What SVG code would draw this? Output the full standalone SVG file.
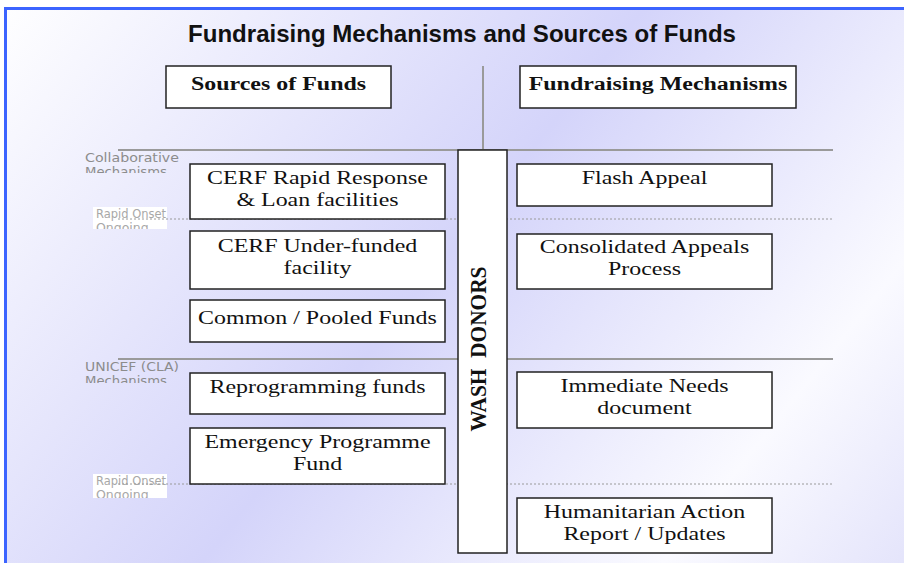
<svg xmlns="http://www.w3.org/2000/svg" width="904" height="563" viewBox="0 0 904 563">
<defs>
<linearGradient id="bg" gradientUnits="userSpaceOnUse" x1="0" y1="0" x2="828" y2="662">
<stop offset="0" stop-color="#ffffff"/>
<stop offset="0.48" stop-color="#d4d4fa"/>
<stop offset="0.82" stop-color="#fafaff"/>
<stop offset="1" stop-color="#e4e4fb"/>
</linearGradient>
<clipPath id="c1"><rect x="80" y="150" width="110" height="23"/></clipPath>
<clipPath id="c2"><rect x="80" y="359" width="110" height="24"/></clipPath>
<clipPath id="c3"><rect x="93" y="207" width="75" height="22"/></clipPath>
<clipPath id="c4"><rect x="93" y="474" width="75" height="24"/></clipPath>
<style>
.box{fill:#ffffff;stroke:#222222;stroke-width:1.5}
.t{font-family:"Liberation Serif","Times New Roman",serif;font-size:19px;fill:#111111;text-anchor:middle}
.h{font-family:"Liberation Serif","Times New Roman",serif;font-size:19px;font-weight:bold;fill:#111111;text-anchor:middle}
.lbl{font-family:"DejaVu Sans",Verdana,sans-serif;font-size:13px;fill:#8c8c8c}
.lbl2{font-family:"DejaVu Sans",Verdana,sans-serif;font-size:12.5px;fill:#a8a8a8}
.solid{stroke:#9a9a9a;stroke-width:2;fill:none}
.dot{stroke:#9a9a9a;stroke-width:1;stroke-dasharray:2,2;fill:none}
</style>
</defs>
<rect x="0" y="0" width="904" height="563" fill="#ffffff"/>
<rect x="5" y="8" width="899" height="555" fill="url(#bg)"/>
<line x1="4" y1="8.5" x2="904" y2="8.5" stroke="#3c64ff" stroke-width="3"/>
<line x1="5.5" y1="7" x2="5.5" y2="563" stroke="#3c64ff" stroke-width="3"/>

<text x="188" y="42" font-family="Liberation Sans, Arial, sans-serif" font-size="24" font-weight="bold" fill="#111111" textLength="548" lengthAdjust="spacingAndGlyphs">Fundraising Mechanisms and Sources of Funds</text>

<g id="connectors">
<line class="solid" x1="483" y1="66" x2="483" y2="150"/>
<line class="solid" x1="118" y1="150" x2="833" y2="150"/>
<line class="solid" x1="118" y1="359" x2="833" y2="359"/>
</g>

<g id="labels">
<text class="lbl" x="85" y="162" textLength="94" lengthAdjust="spacingAndGlyphs">Collaborative</text>
<text class="lbl" x="85" y="176" clip-path="url(#c1)" textLength="82" lengthAdjust="spacingAndGlyphs">Mechanisms</text>
<text class="lbl" x="85" y="371" textLength="94" lengthAdjust="spacingAndGlyphs">UNICEF (CLA)</text>
<text class="lbl" x="85" y="385" clip-path="url(#c2)" textLength="82" lengthAdjust="spacingAndGlyphs">Mechanisms</text>
<rect x="93" y="207" width="74" height="22" fill="#ffffff"/>
<text class="lbl2" x="96" y="218" clip-path="url(#c3)" textLength="70" lengthAdjust="spacingAndGlyphs">Rapid Onset</text>
<text class="lbl2" x="96" y="232" clip-path="url(#c3)">Ongoing</text>
<rect x="93" y="474" width="74" height="24" fill="#ffffff"/>
<text class="lbl2" x="96" y="485" clip-path="url(#c4)" textLength="70" lengthAdjust="spacingAndGlyphs">Rapid Onset</text>
<text class="lbl2" x="96" y="499" clip-path="url(#c4)">Ongoing</text>
</g>

<g id="dotted">
<line class="dot" x1="118" y1="219" x2="833" y2="219"/>
<line class="dot" x1="118" y1="484" x2="833" y2="484"/>
</g>

<g id="hdr-sources">
<rect class="box" x="166" y="66" width="225" height="42"/>
<text class="h" transform="translate(278.5,90) scale(1.26,1)">Sources of Funds</text>
</g>
<g id="hdr-mechanisms">
<rect class="box" x="520" y="66" width="276" height="42"/>
<text class="h" transform="translate(658,90) scale(1.26,1)">Fundraising Mechanisms</text>
</g>

<g id="wash-donors">
<rect class="box" x="458" y="150" width="49" height="403"/>
<text transform="translate(486,349) rotate(-90)" text-anchor="middle" font-family="Liberation Serif, Times New Roman, serif" font-size="23" font-weight="bold" fill="#111111" textLength="165" lengthAdjust="spacingAndGlyphs">WASH&#160; DONORS</text>
</g>

<g id="cerf-rapid">
<rect class="box" x="190" y="164" width="255" height="55"/>
<text class="t" transform="translate(317.5,184) scale(1.26,1)">CERF Rapid Response</text>
<text class="t" transform="translate(317.5,206) scale(1.26,1)">&amp; Loan facilities</text>
</g>
<g id="cerf-under">
<rect class="box" x="190" y="231" width="255" height="58"/>
<text class="t" transform="translate(317.5,252) scale(1.26,1)">CERF Under-funded</text>
<text class="t" transform="translate(317.5,274) scale(1.26,1)">facility</text>
</g>
<g id="common-pooled">
<rect class="box" x="190" y="300" width="255" height="42"/>
<text class="t" transform="translate(317.5,324) scale(1.26,1)">Common / Pooled Funds</text>
</g>
<g id="reprogramming">
<rect class="box" x="190" y="373" width="255" height="41"/>
<text class="t" transform="translate(317.5,393) scale(1.26,1)">Reprogramming funds</text>
</g>
<g id="epf">
<rect class="box" x="190" y="428" width="255" height="56"/>
<text class="t" transform="translate(317.5,448) scale(1.26,1)">Emergency Programme</text>
<text class="t" transform="translate(317.5,470) scale(1.26,1)">Fund</text>
</g>

<g id="flash-appeal">
<rect class="box" x="517" y="164" width="255" height="42"/>
<text class="t" transform="translate(644.5,184) scale(1.26,1)">Flash Appeal</text>
</g>
<g id="cap">
<rect class="box" x="517" y="234" width="255" height="55"/>
<text class="t" transform="translate(644.5,253) scale(1.26,1)">Consolidated Appeals</text>
<text class="t" transform="translate(644.5,275) scale(1.26,1)">Process</text>
</g>
<g id="ind">
<rect class="box" x="517" y="372" width="255" height="56"/>
<text class="t" transform="translate(644.5,392) scale(1.26,1)">Immediate Needs</text>
<text class="t" transform="translate(644.5,414) scale(1.26,1)">document</text>
</g>
<g id="har">
<rect class="box" x="517" y="498" width="255" height="55"/>
<text class="t" transform="translate(644.5,518) scale(1.26,1)">Humanitarian Action</text>
<text class="t" transform="translate(644.5,540) scale(1.26,1)">Report / Updates</text>
</g>
</svg>
